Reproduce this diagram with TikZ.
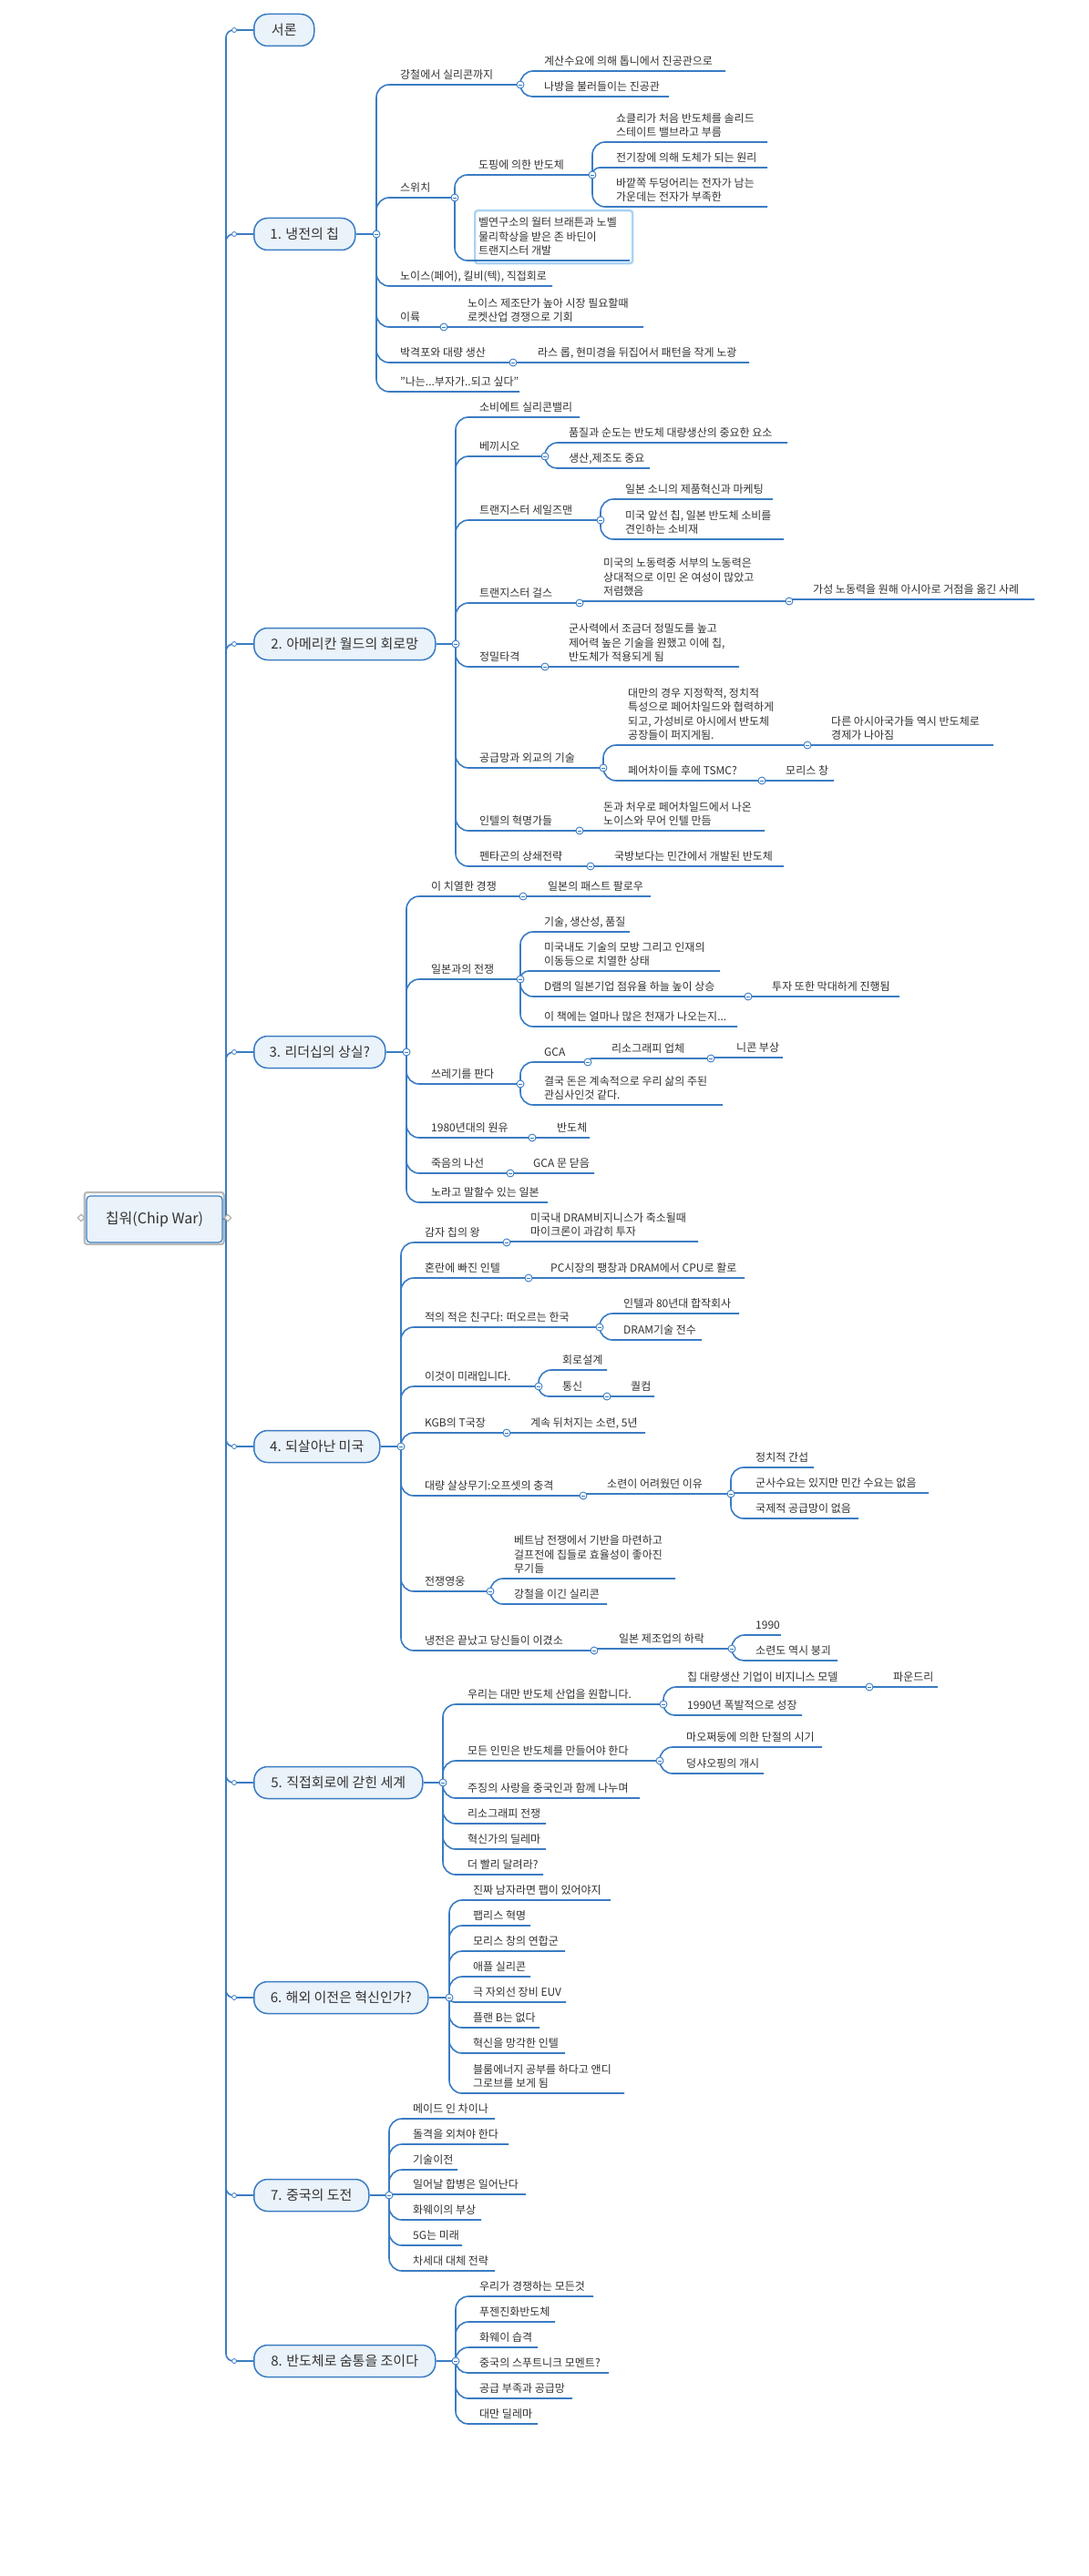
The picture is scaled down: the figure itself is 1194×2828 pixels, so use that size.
\documentclass[tikz,border=0pt]{standalone}
\usepackage{fontspec}
\setmainfont{Noto Sans CJK KR}
\usetikzlibrary{shapes.geometric}
\definecolor{lnc}{HTML}{3A7CC3}
\definecolor{boxf}{HTML}{EAF2FA}
\definecolor{txt}{HTML}{333333}
\definecolor{selc}{HTML}{A9D3F3}
\gdef\jlist{}
\newcommand\jnc[3]{\coordinate (#1) at (#2,#3);\expandafter\xdef\csname jy@#1\endcsname{#3}\ifx\jlist\empty\xdef\jlist{#1}\else\xdef\jlist{\jlist,#1}\fi}
\newcommand\brn[6]{\node[lbl] (#1) at (#3,#4-3) {#6};\coordinate (#1e) at (#5,#4);\pgfmathsetmacro\rr{max(0.5,min(14,abs(#4-\csname jy@#2\endcsname)))}\draw[ln,rounded corners=\rr pt] (#2) |- (#1e);}
\newcommand\topicbox[4]{\node[topic, minimum width=#3pt] (#1) at (278,#2) {#4};\draw[ln,rounded corners=8pt] (rt) |- (#1.west);\node[tc] (k#1) at (257,#2) {};}
\begin{document}
\begin{tikzpicture}[x=1pt,y=-1pt,
  lbl/.style={anchor=south west, inner sep=0pt, align=left, text depth=3pt, font=\fontsize{12}{15.5}\selectfont, text=txt},
  ln/.style={draw=lnc, line width=1.6pt},
  topic/.style={draw=lnc, line width=1.5pt, fill=boxf, rounded corners=15pt, minimum height=35pt, anchor=west, font=\fontsize{15}{18}\selectfont, text=txt, inner sep=0pt},
  jc/.style={circle, draw=lnc, fill=white, line width=0.9pt, minimum size=8pt, inner sep=0pt},
  tc/.style={circle, draw=lnc, fill=white, line width=0.8pt, minimum size=5pt, inner sep=0pt}]
\useasboundingbox (0,0) rectangle (1194,2828);
\fill[white] (0,0) rectangle (1194,2828);
% root
\coordinate (rt) at (248,1338);
\node[draw=gray!55, line width=2.2pt, rounded corners=3pt, minimum width=153pt, minimum height=57pt, inner sep=0pt] (rootf) at (169.2,1337.5) {};
\node[draw=lnc, line width=1.2pt, fill=boxf, rounded corners=4pt, minimum width=149pt, minimum height=51pt, inner sep=0pt, font=\fontsize{16}{19}\selectfont, text=txt] (root) at (169.5,1338.5) {칩워(Chip War)};
\node[diamond, draw=gray!60, fill=white, line width=1.2pt, minimum size=8pt, inner sep=0pt] (dl) at (89,1337) {};
\draw[ln] (root.east) -- (rt);
% main topics
\topicbox{t0}{33}{66}{서론}
\topicbox{t1}{257}{111}{1. 냉전의 칩}
\topicbox{t2}{707}{199}{2. 아메리칸 월드의 회로망}
\topicbox{t3}{1155}{144}{3. 리더십의 상실?}
\topicbox{t4}{1588}{138}{4. 되살아난 미국}
\topicbox{t5}{1957}{185}{5. 직접회로에 갇힌 세계}
\topicbox{t6}{2193}{191}{6. 해외 이전은 혁신인가?}
\topicbox{t7}{2410}{126}{7. 중국의 도전}
\topicbox{t8}{2592}{199}{8. 반도체로 숨통을 조이다}
\node[diamond, draw=gray!60, fill=white, line width=1.2pt, minimum size=8pt, inner sep=0pt] (dr) at (250,1337) {};
% section 1
\jnc{j1}{413}{257}\draw[ln] (t1.east) -- (j1);
\brn{a1}{j1}{439}{93}{571}{강철에서 실리콘까지}\jnc{ja1}{571}{93}
\brn{a11}{ja1}{597}{78}{796}{계산수요에 의해 톱니에서 진공관으로}
\brn{a12}{ja1}{597}{106}{734}{나방을 불러들이는 진공관}
\brn{a2}{j1}{439}{217}{499}{스위치}\jnc{ja2}{499}{217}
\brn{a21}{ja2}{525}{192}{650}{도핑에 의한 반도체}\jnc{ja21}{650}{192}
\brn{a211}{ja21}{676}{156}{842}{쇼클리가 처음 반도체를 솔리드\\스테이트 밸브라고 부름}
\brn{a212}{ja21}{676}{184}{842}{전기장에 의해 도체가 되는 원리}
\brn{a213}{ja21}{676}{227}{842}{바깥쪽 두덩어리는 전자가 남는\\가운데는 전자가 부족한}
\node[draw=selc, line width=2.4pt, rounded corners=3pt, minimum width=173pt, minimum height=58pt, inner sep=0pt, anchor=north west] (sel) at (520,230) {};
\brn{a22}{ja2}{525}{286}{691}{벨연구소의 월터 브래튼과 노벨\\물리학상을 받은 존 바딘이\\트랜지스터 개발}
\brn{a3}{j1}{439}{314}{606}{노이스(페어), 킬비(텍), 직접회로}
\brn{a4}{j1}{439}{359}{487}{이륙}\jnc{ja4}{487}{359}
\brn{a41}{ja4}{513}{359}{706}{노이스 제조단가 높아 시장 필요할때\\로켓산업 경쟁으로 기회}
\brn{a5}{j1}{439}{398}{563}{박격포와 대량 생산}\jnc{ja5}{563}{398}
\brn{a51}{ja5}{590}{398}{822}{라스 롭, 현미경을 뒤집어서 패턴을 작게 노광}
\brn{a6}{j1}{439}{430}{570}{"나는...부자가..되고 싶다"}
% section 2
\jnc{j2}{500}{707}\draw[ln] (t2.east) -- (j2);
\brn{b1}{j2}{526}{458}{636}{소비에트 실리콘밸리}
\brn{b2}{j2}{526}{501}{598}{베끼시오}\jnc{jb2}{598}{501}
\brn{b21}{jb2}{624}{486}{864}{품질과 순도는 반도체 대량생산의 중요한 요소}
\brn{b22}{jb2}{624}{514}{713}{생산,제조도 중요}
\brn{b3}{j2}{526}{571}{659}{트랜지스터 세일즈맨}\jnc{jb3}{659}{571}
\brn{b31}{jb3}{686}{548}{848}{일본 소니의 제품혁신과 마케팅}
\brn{b32}{jb3}{686}{592}{860}{미국 앞선 칩, 일본 반도체 소비를\\견인하는 소비재}
\brn{b4}{j2}{526}{662}{636}{트랜지스터 걸스}\jnc{jb4}{636}{662}
\brn{b41}{jb4}{662}{660}{866}{미국의 노동력중 서부의 노동력은\\상대적으로 이민 온 여성이 많았고\\저렴했음}\jnc{jb41}{866}{660}
\brn{b411}{jb41}{892}{658}{1135}{가성 노동력을 원해 아시아로 거점을 옮긴 사례}
\brn{b5}{j2}{526}{732}{598}{정밀타격}\jnc{jb5}{598}{732}
\brn{b51}{jb5}{624}{732}{811}{군사력에서 조금더 정밀도를 높고\\제어력 높은 기술을 원했고 이에 칩,\\반도체가 적용되게 됨}
\brn{b6}{j2}{526}{843}{662}{공급망과 외교의 기술}\jnc{jb6}{662}{843}
\brn{b61}{jb6}{689}{818}{886}{대만의 경우 지정학적, 정치적\\특성으로 페어차일드와 협력하게\\되고, 가성비로 아시에서 반도체\\공장들이 퍼지게됨.}\jnc{jb61}{886}{818}
\brn{b611}{jb61}{912}{818}{1090}{다른 아시아국가들 역시 반도체로\\경제가 나아짐}
\brn{b62}{jb6}{689}{857}{836}{페어차이들 후에 TSMC?}\jnc{jb62}{836}{857}
\brn{b621}{jb62}{862}{857}{915}{모리스 창}
\brn{b7}{j2}{526}{912}{636}{인텔의 혁명가들}\jnc{jb7}{636}{912}
\brn{b71}{jb7}{662}{912}{839}{돈과 처우로 페어차일드에서 나온\\노이스와 무어 인텔 만듬}
\brn{b8}{j2}{526}{951}{648}{펜타곤의 상쇄전략}\jnc{jb8}{648}{951}
\brn{b81}{jb8}{674}{951}{860}{국방보다는 민간에서 개발된 반도체}
% section 3
\jnc{j3}{446}{1155}\draw[ln] (t3.east) -- (j3);
\brn{c1}{j3}{473}{984}{574}{이 치열한 경쟁}\jnc{jc1}{574}{984}
\brn{c11}{jc1}{601}{984}{714}{일본의 패스트 팔로우}
\brn{c2}{j3}{473}{1075}{571}{일본과의 전쟁}\jnc{jc2}{571}{1075}
\brn{c21}{jc2}{597}{1023}{691}{기술, 생산성, 품질}
\brn{c22}{jc2}{597}{1066}{790}{미국내도 기술의 모방 그리고 인재의\\이동등으로 치열한 상태}
\brn{c23}{jc2}{597}{1094}{821}{D램의 일본기업 점유율 하늘 높이 상승}\jnc{jc23}{821}{1094}
\brn{c231}{jc23}{847}{1094}{987}{투자 또한 막대하게 진행됨}
\brn{c24}{jc2}{597}{1127}{809}{이 책에는 얼마나 많은 천재가 나오는지...}
\brn{c3}{j3}{473}{1190}{571}{쓰레기를 판다}\jnc{jc3}{571}{1190}
\brn{c31}{jc3}{597}{1166}{645}{GCA}\jnc{jc31}{645}{1166}
\brn{c311}{jc31}{671}{1162}{780}{리소그래피 업체}\jnc{jc311}{780}{1162}
\brn{c3111}{jc311}{808}{1161}{859}{니콘 부상}
\brn{c32}{jc3}{597}{1213}{793}{결국 돈은 계속적으로 우리 삶의 주된\\관심사인것 같다.}
\brn{c4}{j3}{473}{1249}{584}{1980년대의 원유}\jnc{jc4}{584}{1249}
\brn{c41}{jc4}{611}{1249}{647}{반도체}
\brn{c5}{j3}{473}{1288}{560}{죽음의 나선}\jnc{jc5}{560}{1288}
\brn{c51}{jc5}{585}{1288}{652}{GCA 문 닫음}
\brn{c6}{j3}{473}{1320}{601}{노라고 말할수 있는 일본}
% section 4
\jnc{j4}{440}{1588}\draw[ln] (t4.east) -- (j4);
\brn{d1}{j4}{466}{1364}{556}{감자 칩의 왕}\jnc{jd1}{556}{1364}
\brn{d11}{jd1}{582}{1363}{766}{미국내 DRAM비지니스가 축소될때\\마이크론이 과감히 투자}
\brn{d2}{j4}{466}{1403}{580}{혼란에 빠진 인텔}\jnc{jd2}{580}{1403}
\brn{d21}{jd2}{604}{1403}{817}{PC시장의 팽창과 DRAM에서 CPU로 활로}
\brn{d3}{j4}{466}{1457}{658}{적의 적은 친구다: 떠오르는 한국}\jnc{jd3}{658}{1457}
\brn{d31}{jd3}{684}{1442}{811}{인텔과 80년대 합작회사}
\brn{d32}{jd3}{684}{1471}{770}{DRAM기술 전수}
\brn{d4}{j4}{466}{1522}{591}{이것이 미래입니다.}\jnc{jd4}{591}{1522}
\brn{d41}{jd4}{617}{1504}{666}{회로설계}
\brn{d42}{jd4}{617}{1533}{666}{통신}\jnc{jd42}{666}{1533}
\brn{d421}{jd42}{692}{1533}{718}{퀄컴}
\brn{d5}{j4}{466}{1573}{556}{KGB의 T국장}\jnc{jd5}{556}{1573}
\brn{d51}{jd5}{582}{1573}{708}{계속 뒤처지는 소련, 5년}
\brn{d6}{j4}{466}{1642}{640}{대량 살상무기:오프셋의 충격}\jnc{jd6}{640}{1642}
\brn{d61}{jd6}{666}{1640}{802}{소련이 어려웠던 이유}\jnc{jd61}{802}{1640}
\brn{d611}{jd61}{829}{1611}{893}{정치적 간섭}
\brn{d612}{jd61}{829}{1639}{1019}{군사수요는 있지만 민간 수요는 없음}
\brn{d613}{jd61}{829}{1667}{942}{국제적 공급망이 없음}
\brn{d7}{j4}{466}{1747}{538}{전쟁영웅}\jnc{jd7}{538}{1747}
\brn{d71}{jd7}{564}{1733}{741}{베트남 전쟁에서 기반을 마련하고\\걸프전에 칩들로 효율성이 좋아진\\무기들}
\brn{d72}{jd7}{564}{1761}{666}{강철을 이긴 실리콘}
\brn{d8}{j4}{466}{1812}{652}{냉전은 끝났고 당신들이 이겼소}\jnc{jd8}{652}{1812}
\brn{d81}{jd8}{679}{1810}{803}{일본 제조업의 하락}\jnc{jd81}{803}{1810}
\brn{d811}{jd81}{829}{1795}{857}{1990}
\brn{d812}{jd81}{829}{1823}{919}{소련도 역시 붕괴}
% section 5
\jnc{j5}{486}{1957}\draw[ln] (t5.east) -- (j5);
\brn{e1}{j5}{513}{1871}{728}{우리는 대만 반도체 산업을 원합니다.}\jnc{je1}{728}{1871}
\brn{e11}{je1}{754}{1852}{954}{칩 대량생산 기업이 비지니스 모델}\jnc{je11}{954}{1852}
\brn{e111}{je11}{980}{1852}{1029}{파운드리}
\brn{e12}{je1}{754}{1883}{880}{1990년 폭발적으로 성장}
\brn{e2}{j5}{513}{1933}{724}{모든 인민은 반도체를 만들어야 한다}\jnc{je2}{724}{1933}
\brn{e21}{je2}{753}{1918}{902}{마오쩌둥에 의한 단절의 시기}
\brn{e22}{je2}{753}{1947}{838}{덩샤오핑의 개시}
\brn{e3}{j5}{513}{1974}{702}{주징의 사랑을 중국인과 함께 나누며}
\brn{e4}{j5}{513}{2002}{599}{리소그래피 전쟁}
\brn{e5}{j5}{513}{2030}{599}{혁신가의 딜레마}
\brn{e6}{j5}{513}{2058}{596}{더 빨리 달려라?}
% section 6
\jnc{j6}{493}{2193}\draw[ln] (t6.east) -- (j6);
\brn{f1}{j6}{519}{2086}{670}{진짜 남자라면 팹이 있어야지}
\brn{f2}{j6}{519}{2114}{582}{팹리스 혁명}
\brn{f3}{j6}{519}{2142}{620}{모리스 창의 연합군}
\brn{f4}{j6}{519}{2170}{582}{애플 실리콘}
\brn{f5}{j6}{519}{2198}{621}{극 자외선 장비 EUV}
\brn{f6}{j6}{519}{2226}{592}{플랜 B는 없다}
\brn{f7}{j6}{519}{2254}{620}{혁신을 망각한 인텔}
\brn{f8}{j6}{519}{2298}{685}{블룸에너지 공부를 하다고 앤디\\그로브를 보게 됨}
% section 7
\jnc{j7}{427}{2410}\draw[ln] (t7.east) -- (j7);
\brn{g1}{j7}{453}{2326}{543}{메이드 인 차이나}
\brn{g2}{j7}{453}{2354}{558}{돌격을 외쳐야 한다}
\brn{g3}{j7}{453}{2382}{502}{기술이전}
\brn{g4}{j7}{453}{2409}{577}{일어날 합병은 일어난다}
\brn{g5}{j7}{453}{2437}{528}{화웨이의 부상}
\brn{g6}{j7}{453}{2465}{507}{5G는 미래}
\brn{g7}{j7}{453}{2493}{543}{차세대 대체 전략}
% section 8
\jnc{j8}{500}{2592}\draw[ln] (t8.east) -- (j8);
\brn{h1}{j8}{526}{2521}{651}{우리가 경쟁하는 모든것}
\brn{h2}{j8}{526}{2549}{609}{푸젠진화반도체}
\brn{h3}{j8}{526}{2577}{590}{화웨이 습격}
\brn{h4}{j8}{526}{2605}{668}{중국의 스푸트니크 모멘트?}
\brn{h5}{j8}{526}{2633}{628}{공급 부족과 공급망}
\brn{h6}{j8}{526}{2661}{590}{대만 딜레마}
% junction markers
\foreach \n in \jlist {\node[jc] (c-\n) at (\n) {};\draw[lnc, line width=0.8pt] ([xshift=-2pt]\n) -- ([xshift=2pt]\n);}
\end{tikzpicture}
\end{document}
